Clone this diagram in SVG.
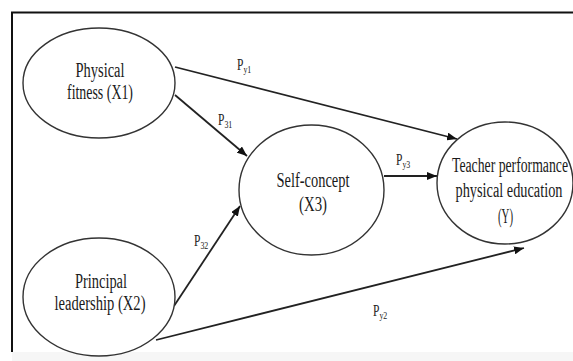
<svg xmlns="http://www.w3.org/2000/svg" width="573" height="361" viewBox="0 0 573 361">
<style>
.node ellipse{fill:#fff;stroke:#333;stroke-width:1.4}
.node text{fill:#1a1a1a;text-anchor:middle}
.conn line{stroke:#222;stroke-width:1.8;marker-end:url(#arr)}
.lbl{fill:#222}
</style>
<defs>
<marker id="arr" markerUnits="userSpaceOnUse" markerWidth="10" markerHeight="8" refX="10" refY="4" orient="auto">
<path d="M0,0 L10,4 L0,8 z" fill="#111"/>
</marker>
</defs>
<rect x="0" y="0" width="573" height="361" fill="#fff"/>
<rect x="12" y="352" width="561" height="9" fill="#f6f6f6"/>
<path d="M12,352 V12.5 H573" fill="none" stroke="#111" stroke-width="2"/>
<g id="connectors" class="conn">
<line x1="175" y1="67" x2="457" y2="139"/>
<line x1="175" y1="95" x2="247" y2="156"/>
<line x1="174" y1="306" x2="240" y2="206"/>
<line x1="384" y1="176" x2="437" y2="176"/>
<line x1="156" y1="340" x2="524" y2="248"/>
</g>
<g id="labels" font-family="'Liberation Serif', 'Times New Roman', serif" font-size="16">
<text class="lbl" transform="translate(237,70) scale(0.72,1)">P<tspan font-size="11" dy="3">y1</tspan></text>
<text class="lbl" transform="translate(218,125) scale(0.72,1)">P<tspan font-size="11" dy="3">31</tspan></text>
<text class="lbl" transform="translate(194,246) scale(0.72,1)">P<tspan font-size="11" dy="3">32</tspan></text>
<text class="lbl" transform="translate(396,165) scale(0.72,1)">P<tspan font-size="11" dy="3">y3</tspan></text>
<text class="lbl" transform="translate(373,316) scale(0.72,1)">P<tspan font-size="11" dy="3">y2</tspan></text>
</g>
<g id="x1" class="node" font-family="'Liberation Serif', 'Times New Roman', serif" font-size="20">
<ellipse cx="99" cy="83" rx="76" ry="55"/>
<text x="100" y="77" textLength="49" lengthAdjust="spacingAndGlyphs">Physical</text>
<text x="100" y="99" textLength="66" lengthAdjust="spacingAndGlyphs">fitness (X1)</text>
</g>
<g id="x2" class="node" font-family="'Liberation Serif', 'Times New Roman', serif" font-size="20">
<ellipse cx="99" cy="297" rx="76" ry="59"/>
<text x="101" y="288" textLength="52" lengthAdjust="spacingAndGlyphs">Principal</text>
<text x="100" y="310" textLength="91" lengthAdjust="spacingAndGlyphs">leadership (X2)</text>
</g>
<g id="x3" class="node" font-family="'Liberation Serif', 'Times New Roman', serif" font-size="20">
<ellipse cx="311.5" cy="190" rx="72.5" ry="65"/>
<text x="313" y="187" textLength="73" lengthAdjust="spacingAndGlyphs">Self-concept</text>
<text x="313" y="211" textLength="28" lengthAdjust="spacingAndGlyphs">(X3)</text>
</g>
<g id="y" class="node" font-family="'Liberation Serif', 'Times New Roman', serif" font-size="20">
<ellipse cx="505" cy="183" rx="68" ry="61"/>
<text x="510" y="172" textLength="116" lengthAdjust="spacingAndGlyphs">Teacher performance</text>
<text x="509" y="197" textLength="107" lengthAdjust="spacingAndGlyphs">physical education</text>
<text x="505.5" y="223" textLength="15" lengthAdjust="spacingAndGlyphs">(Y)</text>
</g>
</svg>
